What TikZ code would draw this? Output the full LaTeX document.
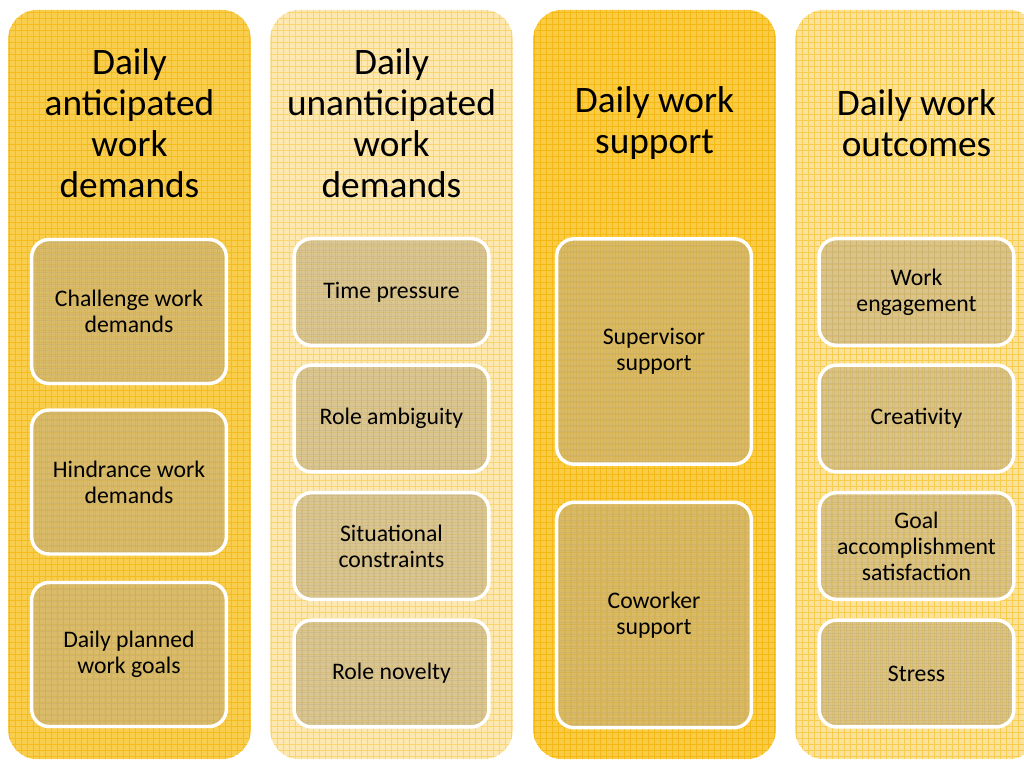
\documentclass[tikz,border=0pt]{standalone}
\usepackage{fontspec}
\setmainfont{Carlito}
\usepackage{tikz}

\definecolor{laneA}{HTML}{F9CD4E}
\definecolor{gridA}{HTML}{F5BC1E}
\definecolor{laneB}{HTML}{FCE8B0}
\definecolor{gridB}{HTML}{F8D56E}
\definecolor{laneC}{HTML}{F9CB46}
\definecolor{gridC}{HTML}{F5B914}
\definecolor{laneD}{HTML}{FBE29C}
\definecolor{gridD}{HTML}{F7CD50}
\definecolor{boxtan}{HTML}{C4B07E}
\definecolor{gridtan}{HTML}{B8A678}

\tikzset{
  lane/.style 2 args={rounded corners=22pt, inner sep=0pt, minimum width=182pt,
    minimum height=562pt, fill=#1,
    path picture={\draw[#2, line width=0.35pt] (path picture bounding box.south west)
      grid[step=4.5pt] (path picture bounding box.north east);}},
  heading/.style={align=center, inner sep=0pt, font=\fontsize{28}{30.75}\selectfont},
  itembox/.style={draw=white, line width=2.6pt, rounded corners=13pt, fill=boxtan,
    fill opacity=0.6, text opacity=1, inner sep=0pt, minimum width=146pt,
    minimum height=#1, align=center, font=\fontsize{17.8}{19.5}\selectfont,
    path picture={\draw[gridtan, line width=0.35pt, draw opacity=0.3]
      (path picture bounding box.south west) grid[step=4.5pt]
      (path picture bounding box.north east);}}
}

\begin{document}
\begin{tikzpicture}[x=0.75pt, y=-0.75pt]
        \useasboundingbox (0, 0) rectangle (1024, 761);

        % the four columns
        \node [lane={laneA}{gridA}] (anticipated) at (129.5, 384.5) {};
        \node [lane={laneB}{gridB}] (unanticipated) at (391.5, 384.5) {};
        \node [lane={laneC}{gridC}] (support) at (654.5, 384.5) {};
        \node [lane={laneD}{gridD}] (outcomes) at (916.5, 384.5) {};

        \node [heading] (anticipatedhead) at (129.5, 123) {Daily\\anticipated\\work\\demands};
        \node [heading] (unanticipatedhead) at (391.5, 123) {Daily\\unanticipated\\work\\demands};
        \node [heading] (supporthead) at (654.5, 123) {Daily work\\support};
        \node [heading] (outcomeshead) at (916.5, 123) {Daily work\\outcomes};

        % anticipated demands
        \node [itembox=108pt] (challenge) at (129, 311.5) {Challenge work\\demands};
        \node [itembox=108pt] (hindrance) at (129, 482) {Hindrance work\\demands};
        \node [itembox=108pt] (goals) at (129, 654.5) {Daily planned\\work goals};

        % unanticipated demands
        \node [itembox=80pt] (timepressure) at (391.5, 292) {Time pressure};
        \node [itembox=80pt] (ambiguity) at (391.5, 418.5) {Role ambiguity};
        \node [itembox=80pt] (constraints) at (391.5, 546) {Situational\\constraints};
        \node [itembox=80pt] (novelty) at (391.5, 673.5) {Role novelty};

        % support
        \node [itembox=169pt] (supervisor) at (654, 351.5) {Supervisor\\support};
        \node [itembox=169pt] (coworker) at (654, 615) {Coworker\\support};

        % outcomes
        \node [itembox=80pt] (engagement) at (916.5, 292) {Work\\engagement};
        \node [itembox=80pt] (creativity) at (916.5, 418.5) {Creativity};
        \node [itembox=80pt] (satisfaction) at (916.5, 546) {Goal\\accomplishment\\satisfaction};
        \node [itembox=80pt] (stress) at (916.5, 673.5) {Stress};

     \end{tikzpicture}
\end{document}
